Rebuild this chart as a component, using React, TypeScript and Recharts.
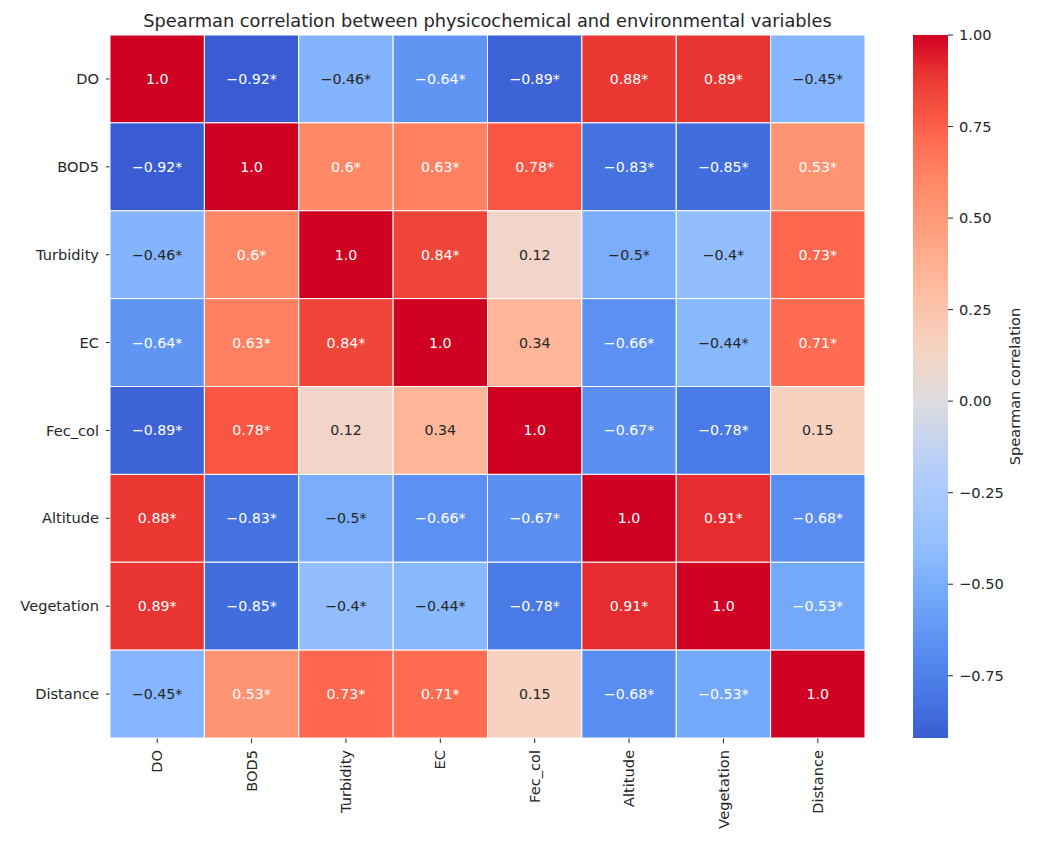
import React from "react";
import { ScatterChart, Scatter, XAxis, YAxis, BarChart, Bar, Label } from "recharts";

const variables = ["DO", "BOD5", "Turbidity", "EC", "Fec_col", "Altitude", "Vegetation", "Distance"];

// one row of the correlation matrix per variable
const doRow = [1.0, -0.92, -0.46, -0.64, -0.89, 0.88, 0.89, -0.45];
const bod5Row = [-0.92, 1.0, 0.6, 0.63, 0.78, -0.83, -0.85, 0.53];
const turbidityRow = [-0.46, 0.6, 1.0, 0.84, 0.12, -0.5, -0.4, 0.73];
const ecRow = [-0.64, 0.63, 0.84, 1.0, 0.34, -0.66, -0.44, 0.71];
const fecColRow = [-0.89, 0.78, 0.12, 0.34, 1.0, -0.67, -0.78, 0.15];
const altitudeRow = [0.88, -0.83, -0.5, -0.66, -0.67, 1.0, 0.91, -0.68];
const vegetationRow = [0.89, -0.85, -0.4, -0.44, -0.78, 0.91, 1.0, -0.53];
const distanceRow = [-0.45, 0.53, 0.73, 0.71, 0.15, -0.68, -0.53, 1.0];

const rows = [doRow, bod5Row, turbidityRow, ecRow, fecColRow, altitudeRow, vegetationRow, distanceRow];

// pairs without a star (not significant)
const notSignificant = [
  ["Turbidity", "Fec_col"],
  ["EC", "Fec_col"],
  ["Fec_col", "Distance"],
];

const colorbarTicks = [-0.75, -0.5, -0.25, 0, 0.25, 0.5, 0.75, 1.0];
const V_MIN = -0.92;
const V_MAX = 1.0;

// coolwarm-like palette, keyed by correlation value
const colorStops: [number, number[]][] = [
  [-0.92, [58, 92, 210]],
  [-0.83, [68, 114, 223]],
  [-0.78, [74, 122, 229]],
  [-0.66, [92, 145, 243]],
  [-0.5, [122, 174, 252]],
  [-0.4, [146, 190, 255]],
  [-0.2, [178, 205, 252]],
  [0.0, [221, 220, 222]],
  [0.12, [242, 213, 200]],
  [0.15, [247, 210, 192]],
  [0.34, [255, 182, 152]],
  [0.53, [255, 148, 114]],
  [0.62, [255, 132, 100]],
  [0.72, [255, 105, 80]],
  [0.78, [248, 85, 66]],
  [0.84, [240, 70, 58]],
  [0.9, [232, 49, 48]],
  [1.0, [208, 0, 35]],
];

const colorFor = (v: number) => {
  for (let i = 1; i < colorStops.length; i++) {
    const [v1, c1] = colorStops[i];
    const [v0, c0] = colorStops[i - 1];
    if (v <= v1) {
      const t = (v - v0) / (v1 - v0);
      const c = c0.map((a, k) => Math.round(a + (c1[k] - a) * Math.max(0, Math.min(1, t))));
      return `rgb(${c[0]},${c[1]},${c[2]})`;
    }
  }
  const c = colorStops[colorStops.length - 1][1];
  return `rgb(${c[0]},${c[1]},${c[2]})`;
};

const fmt = (v: number) => (Number.isInteger(v) ? v.toFixed(1) : String(v)).replace("-", "\u2212");

const isSig = (a: string, b: string) =>
  a !== b && !notSignificant.some(([p, q]) => (p === a && q === b) || (p === b && q === a));

const cells = rows.flatMap((row, r) =>
  row.map((value, c) => ({
    x: c + 0.5,
    y: r + 0.5,
    value,
    label: fmt(value) + (isSig(variables[r], variables[c]) ? "*" : ""),
  }))
);

const colorbarData = [{ name: "cbar", range: [V_MIN, V_MAX] }];

const PLOT_W = 755;
const PLOT_H = 703;
const CELL_W = PLOT_W / variables.length;
const CELL_H = PLOT_H / variables.length;
const centers = variables.map((_, i) => i + 0.5);
const TEXT = "#262626";
const TICK_FONT = 14.6;

function HeatCell(props: any) {
  const { cx, cy, payload } = props;
  const dark = payload.value > -0.52 && payload.value < 0.5;
  return (
    <g>
      <rect
        x={cx - CELL_W / 2}
        y={cy - CELL_H / 2}
        width={CELL_W}
        height={CELL_H}
        fill={colorFor(payload.value)}
        stroke="#ffffff"
        strokeWidth={1}
      />
      <text x={cx} y={cy} dy="0.35em" textAnchor="middle" fontSize={14.2} fill={dark ? TEXT : "#ffffff"}>
        {payload.label}
      </text>
    </g>
  );
}

function XTick(props: any) {
  const { x, y, payload } = props;
  return (
    <text
      x={x}
      y={y}
      dy="0.35em"
      textAnchor="end"
      fontSize={TICK_FONT}
      fill={TEXT}
      transform={`rotate(-90, ${x}, ${y})`}
    >
      {variables[Math.floor(payload.value)]}
    </text>
  );
}

function YTick(props: any) {
  const { x, y, payload } = props;
  return (
    <text x={x} y={y} dy="0.35em" textAnchor="end" fontSize={TICK_FONT} fill={TEXT}>
      {variables[Math.floor(payload.value)]}
    </text>
  );
}

export default function App() {
  const span = V_MAX - V_MIN;
  return (
    <div style={{ position: "relative", width: 1028, height: 835, fontFamily: "'DejaVu Sans', sans-serif", background: "#fff" }}>
      <div
        style={{
          position: "absolute",
          left: 102,
          top: 2,
          width: PLOT_W,
          textAlign: "center",
          fontSize: 17.8,
          lineHeight: "21px",
          color: TEXT,
          whiteSpace: "nowrap",
        }}
      >
        Spearman correlation between physicochemical and environmental variables
      </div>
      <div style={{ position: "absolute", left: 0, top: 0 }}>
        <ScatterChart width={900} height={835} margin={{ top: 27, right: 43, bottom: 0, left: 0 }}>
          <XAxis
            type="number"
            dataKey="x"
            domain={[0, 8]}
            ticks={centers}
            interval={0}
            height={105}
            axisLine={false}
            tickLine={{ stroke: TEXT }}
            tickSize={5}
            tickMargin={7}
            tick={<XTick />}
          />
          <YAxis
            type="number"
            dataKey="y"
            domain={[0, 8]}
            reversed
            ticks={centers}
            interval={0}
            width={102}
            axisLine={false}
            tickLine={{ stroke: TEXT }}
            tickSize={4}
            tickMargin={7}
            tick={<YTick />}
          />
          <Scatter data={cells} shape={<HeatCell />} isAnimationActive={false} />
        </ScatterChart>
      </div>
      <div style={{ position: "absolute", left: 905, top: 0 }}>
        <BarChart
          width={123}
          height={835}
          data={colorbarData}
          barCategoryGap={0}
          margin={{ top: 27, right: 0, bottom: 105, left: 0 }}
        >
          <defs>
            <linearGradient id="cbar" x1="0" y1="0" x2="0" y2="1">
              {colorStops
                .slice()
                .reverse()
                .map(([v, c]) => (
                  <stop key={v} offset={(V_MAX - v) / span} stopColor={`rgb(${c[0]},${c[1]},${c[2]})`} />
                ))}
            </linearGradient>
          </defs>
          <XAxis dataKey="name" hide />
          <YAxis
            orientation="right"
            type="number"
            domain={[V_MIN, V_MAX]}
            allowDataOverflow
            ticks={colorbarTicks}
            interval={0}
            width={88}
            axisLine={false}
            tickLine={{ stroke: TEXT }}
            tickSize={5}
            tickMargin={6}
            tick={{ fontSize: TICK_FONT, fill: TEXT }}
            tickFormatter={(v: number) => v.toFixed(2).replace("-", "\u2212")}
          >
            <Label
              content={(p: any) => {
                const vb = p.viewBox;
                const lx = vb.x + 67;
                const ly = vb.y + vb.height / 2;
                return (
                  <text
                    x={lx}
                    y={ly}
                    dy="0.35em"
                    textAnchor="middle"
                    fontSize={TICK_FONT}
                    fill={TEXT}
                    transform={`rotate(-90, ${lx}, ${ly})`}
                  >
                    Spearman correlation
                  </text>
                );
              }}
            />
          </YAxis>
          <Bar dataKey="range" fill="url(#cbar)" isAnimationActive={false} />
        </BarChart>
      </div>
    </div>
  );
}
